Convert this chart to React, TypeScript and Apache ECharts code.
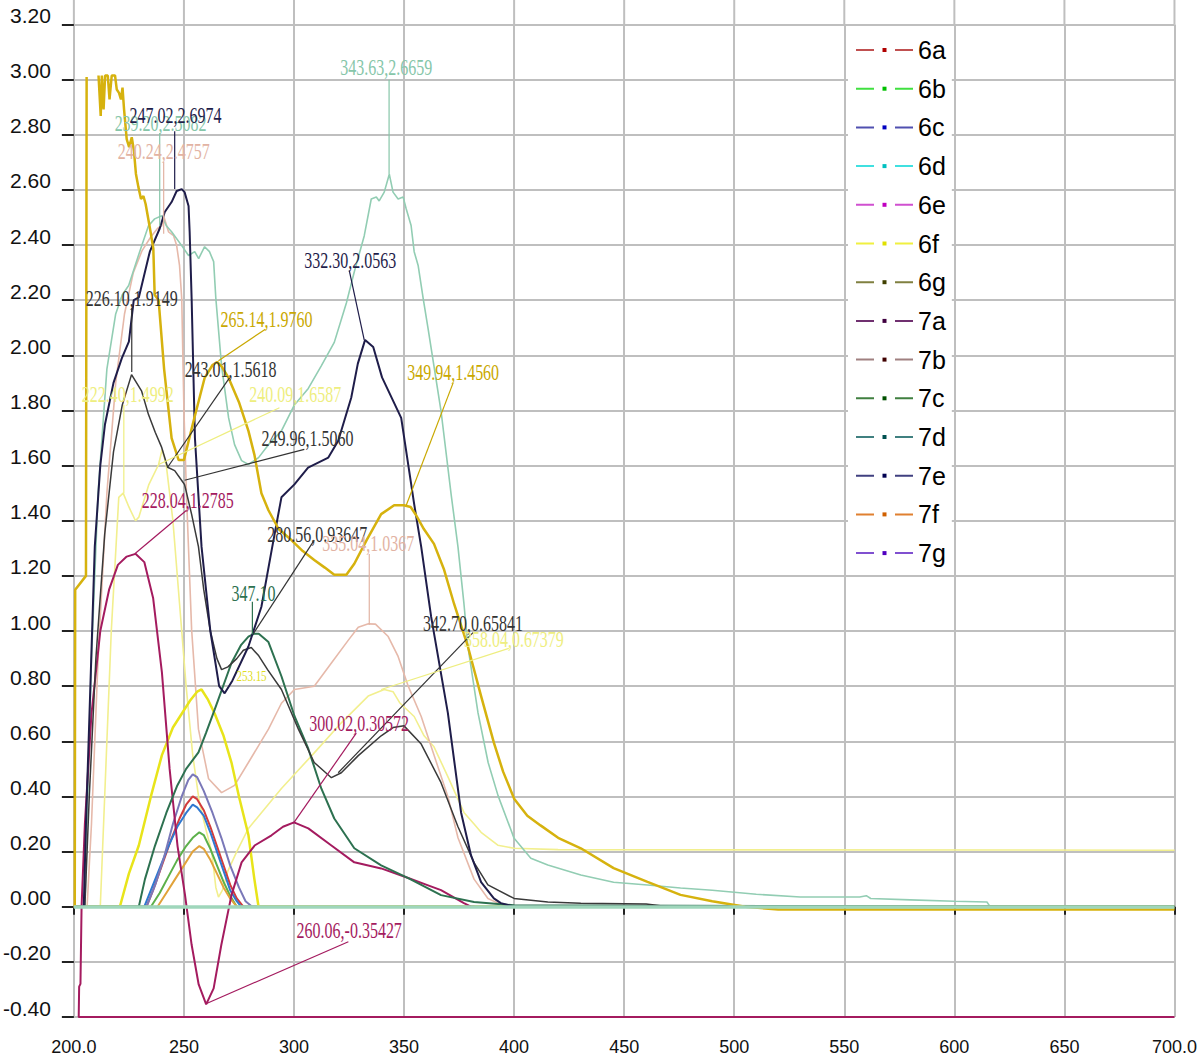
import React, { useEffect, useRef } from "react";
import * as echarts from "echarts";

// ---------- axes ----------
const X_TICKS = [200, 250, 300, 350, 400, 450, 500, 550, 600, 650, 700];
const X_TICK_LABELS = ["200.0", "250", "300", "350", "400", "450", "500", "550", "600", "650", "700.0"];
const Y_TICKS = [-0.4, -0.2, 0, 0.2, 0.4, 0.6, 0.8, 1.0, 1.2, 1.4, 1.6, 1.8, 2.0, 2.2, 2.4, 2.6, 2.8, 3.0, 3.2];
const Y_TICK_LABELS = ["-0.40", "-0.20", "0.00", "0.20", "0.40", "0.60", "0.80", "1.00", "1.20", "1.40", "1.60", "1.80", "2.00", "2.20", "2.40", "2.60", "2.80", "3.00", "3.20"];

const LEGEND_NAMES = ["6a", "6b", "6c", "6d", "6e", "6f", "6g", "7a", "7b", "7c", "7d", "7e", "7f", "7g"];

// ---------- spectra (wavelength nm, absorbance) ----------
const S6A = [[200,0],[233,0],[236,0.06],[240,0.15],[244,0.24],[248,0.32],[251,0.37],[254,0.4],[256,0.39],[259,0.35],[262,0.29],[265,0.22],[268,0.15],[271,0.08],[274,0.03],[277,0],[700,0]];
const S6B = [[200,0],[235,0],[239,0.05],[243,0.11],[247,0.17],[251,0.22],[254,0.25],[257,0.27],[259,0.26],[262,0.21],[265,0.15],[268,0.09],[271,0.04],[274,0],[700,0]];
const S6C = [[200,0],[232,0],[235,0.06],[239,0.14],[243,0.22],[247,0.29],[251,0.34],[254,0.37],[256,0.36],[259,0.33],[262,0.27],[265,0.2],[268,0.13],[271,0.06],[274,0.02],[276,0],[700,0]];
const S6D = [[200,0],[205,0],[206,0.3],[208,0.9],[211,1.5],[215,1.95],[219,2.15],[222,2.22],[224.9,2.253],[229.9,2.376],[233.9,2.47],[236.7,2.495],[239.9,2.506],[242,2.47],[244.4,2.448],[249,2.398],[252.1,2.362],[254.9,2.376],[256.7,2.351],[259.4,2.394],[261.6,2.376],[263.5,2.34],[264.5,2.206],[267.1,1.962],[270.3,1.773],[273,1.676],[276.2,1.618],[279.3,1.604],[283.9,1.629],[288.4,1.676],[294.3,1.726],[300.2,1.82],[306.5,1.88],[312.4,1.962],[318.3,2.047],[323.8,2.19],[327.4,2.303],[331.9,2.433],[335.1,2.567],[337.4,2.574],[338.7,2.56],[341,2.592],[343.3,2.657],[345,2.592],[347.3,2.567],[349.6,2.574],[351,2.531],[353.2,2.471],[354.6,2.376],[356.4,2.326],[358.7,2.206],[360.9,2.098],[366.8,1.798],[371.4,1.495],[374.5,1.305],[377.2,1.1],[379,0.944],[383.6,0.703],[388.2,0.523],[392.7,0.403],[400,0.248],[407.6,0.176],[415.3,0.151],[430.3,0.115],[445.2,0.089],[460.6,0.079],[475.6,0.068],[490,0.06],[510,0.045],[530,0.035],[557,0.035],[560,0.04],[562,0.03],[580,0.025],[600,0.02],[614.8,0.017],[616,0.003],[700,0.003]];
const S6E = [[700,-0.4],[202.2,-0.4],[202.4,-0.29],[203,-0.28],[203.5,0],[205,0.3],[208,0.7],[212,1.0],[216,1.15],[220,1.24],[224,1.27],[228,1.28],[232,1.25],[236,1.12],[240,0.85],[243.5,0.5],[247.1,0.22],[250.5,0.042],[253.5,-0.138],[256.7,-0.282],[260.1,-0.354],[263.5,-0.296],[267,-0.138],[271.6,0.042],[276.2,0.161],[282.1,0.222],[289.8,0.259],[295,0.29],[300,0.306],[306.5,0.284],[317,0.222],[327.4,0.161],[339.6,0.139],[351.9,0.104],[360,0.08],[366.8,0.06],[377.2,0.013],[380.4,0],[382,0]];
const S6F = [[200,0],[220.9,0],[225,0.12],[229.5,0.222],[235,0.4],[240,0.55],[245,0.65],[249,0.7],[253,0.75],[256,0.78],[258,0.788],[261,0.75],[264,0.7],[268,0.62],[271.6,0.523],[275,0.4],[279.3,0.26],[282,0.1],[283.9,0],[700,0]];
const S6G = [[200.4,0],[200.6,1.15],[205.5,1.2],[205.8,3.01],[207,"-"],[211.2,3.015],[212.2,2.868],[212.7,3.015],[213.5,2.892],[214.2,3.015],[215.4,3.015],[216.2,2.928],[217.2,3.015],[218.7,3.015],[219.5,2.964],[220.5,2.952],[221.4,2.928],[222.1,2.971],[222.8,2.892],[224,2.784],[225.1,2.755],[226.3,2.791],[227.3,2.741],[228.2,2.658],[229.3,2.611],[230.5,2.567],[231.6,2.578],[232.6,2.549],[234.6,2.459],[236.1,2.387],[236.7,2.22],[238.5,2.2],[241,1.95],[244.4,1.7],[247.6,1.62],[250,1.62],[254,1.75],[259.4,1.918],[263,1.965],[265.1,1.976],[267.1,1.96],[270.3,1.918],[275,1.83],[279.3,1.726],[282,1.64],[285.2,1.5],[288.4,1.438],[293,1.37],[298.8,1.33],[304,1.29],[309.2,1.258],[314,1.23],[318.3,1.204],[323.8,1.204],[327.4,1.244],[333,1.33],[339.6,1.424],[345.5,1.456],[349.9,1.456],[353,1.45],[355.5,1.42],[359,1.37],[363.6,1.316],[368.2,1.222],[372.7,1.099],[379,0.944],[385,0.764],[390.8,0.595],[395,0.49],[400,0.392],[406,0.33],[412,0.295],[420,0.25],[430.3,0.212],[445.2,0.14],[460.6,0.09],[475.6,0.043],[490,0.02],[505,0],[520,-0.01],[700,-0.01]];
const S7A = [[200,0],[205,0],[207,0.4],[210,0.9],[214,1.35],[218,1.65],[222,1.82],[226.2,1.93],[230.8,1.87],[233.9,1.785],[237,1.72],[239.9,1.666],[242.6,1.594],[245.8,1.582],[249,1.546],[250.3,1.531],[253.5,1.423],[256.6,1.306],[259,1.15],[262,1.0],[265,0.9],[267.1,0.86],[270,0.87],[274,0.9],[277,0.93],[280.6,0.94],[284,0.91],[288,0.86],[294.3,0.788],[302,0.644],[309.2,0.523],[317,0.468],[321.5,0.486],[329.2,0.548],[339.6,0.62],[345,0.65],[350,0.656],[357.8,0.59],[366.8,0.45],[374.5,0.29],[381.8,0.16],[388.1,0.079],[400,0.03],[415.3,0.017],[430.3,0.013],[460,0.01],[470,0],[700,0]];
const S7B = [[200,0],[206,0],[208,0.3],[211,0.9],[215,1.5],[219,1.9],[223,2.15],[227,2.3],[231,2.38],[235,2.43],[238,2.46],[239.9,2.47],[241,2.5],[243,2.448],[245.3,2.434],[246.7,2.398],[248,2.326],[249,2.206],[250,1.8],[251.2,1.485],[253.5,1.005],[256.6,0.644],[261.2,0.464],[267.1,0.414],[273,0.44],[279.3,0.523],[288.4,0.644],[294.3,0.738],[300.2,0.788],[309.2,0.8],[317,0.884],[324.7,0.967],[329.2,1.014],[333.8,1.026],[337,1.025],[342.8,0.98],[347.3,0.908],[351.9,0.8],[357.8,0.69],[363.6,0.55],[369.9,0.4],[374.5,0.25],[381.8,0.1],[388.1,0.03],[392.7,0.013],[400,0],[700,0]];
const S7C = [[200,0],[229.5,0],[232.3,0.1],[236.8,0.22],[242,0.34],[247,0.44],[251,0.5],[256.6,0.56],[260,0.63],[264,0.716],[271.6,0.884],[276,0.95],[279.3,0.98],[281.8,0.99],[284,0.99],[288.4,0.96],[294.3,0.836],[300.2,0.692],[306.5,0.573],[312.4,0.429],[318.3,0.32],[327.4,0.212],[339.6,0.15],[351.9,0.104],[366.8,0.042],[381.8,0.017],[400,0.005],[633,0],[700,0]];
const S7D = [[200,0],[212,0],[214,0.4],[217,1.0],[220.4,1.485],[222.4,1.5],[225,1.45],[228,1.4],[229.5,1.413],[234,1.53],[238.5,1.604],[240.1,1.659],[242,1.6],[245,1.4],[248,1.1],[251,0.8],[254,0.55],[257,0.38],[260,0.28],[262.6,0.2],[264.5,0.07],[265.7,0.035],[267.5,0.06],[270,0.13],[274,0.2],[279.3,0.284],[294.3,0.429],[309.2,0.558],[321.5,0.667],[333.7,0.764],[341,0.788],[345,0.78],[348,0.74],[354.6,0.69],[359.1,0.62],[363.6,0.58],[370,0.47],[377.2,0.342],[381.8,0.3],[385,0.27],[392.6,0.223],[400,0.212],[420,0.207],[700,0.205]];
const S7E = [[200,0],[204.5,0],[205.5,0.3],[207.5,0.8],[209.5,1.306],[212,1.6],[214.1,1.748],[218,1.9],[221.8,1.99],[225,2.05],[227.2,2.2],[229.5,2.21],[234.5,2.376],[239,2.46],[241.3,2.52],[244.4,2.556],[246.7,2.596],[249,2.603],[250.3,2.592],[252.1,2.542],[252.6,2.448],[253.5,2.206],[255,1.7],[258,1.306],[262,1.0],[266,0.8],[268.5,0.774],[272,0.82],[279.3,0.944],[285.2,1.088],[290,1.3],[294.3,1.485],[300.2,1.532],[306.4,1.593],[315.6,1.629],[320.1,1.69],[326,1.846],[329,1.97],[332.3,2.056],[336,2.03],[340,1.92],[348.7,1.773],[354.6,1.46],[357.8,1.305],[362.3,1.052],[369.9,0.703],[375.9,0.342],[380.4,0.187],[385,0.089],[390.8,0.03],[394,0.013],[400,0],[700,0]];
const S7F = [[200,0],[238,0],[242,0.05],[246,0.1],[250,0.15],[254,0.2],[257,0.22],[259,0.21],[262,0.17],[265,0.12],[268,0.07],[271,0.03],[274,0],[700,0]];
const S7G = [[200,0],[233,0],[237,0.08],[241,0.18],[245,0.3],[249,0.4],[252,0.46],[254,0.48],[256,0.47],[259,0.42],[263,0.34],[267,0.25],[271,0.15],[275,0.07],[278,0.02],[281,0],[700,0]];

// ---------- peak annotations (data coordinates) ----------
const ANN_TEXT = ["343.63,2.6659","239.20,2.5082","247.02,2.6974","240.24,2.4757","226.10,1.9149","265.14,1.9760","243.01,1.5618","222.40,1.4992","240.09,1.6587","249.96,1.5060","228.04,1.2785","332.30,2.0563","349.94,1.4560","280.56,0.93647","335.04,1.0367","347.10","253.15","300.02,0.30572","342.70,0.65841","358.04,0.67379","260.06,-0.35427"];
const ANN_AT = [[341.9,3.044],[239.4,2.842],[246.2,2.871],[240.8,2.741],[226.3,2.207],[287.5,2.131],[271.2,1.947],[224.5,1.857],[300.6,1.857],[306.1,1.698],[251.7,1.474],[325.6,2.344],[372.3,1.936],[310.6,1.351],[333.7,1.319],[281.6,1.135],[280.7,0.836],[329.6,0.663],[381.3,1.027],[399.9,0.969],[325.1,-0.088]];
const ANN_FROM = [[343.2,3.0],[239.0,2.806],[245.8,2.813],[240.8,2.701],[226.3,2.171],[287.0,2.095],[270.7,1.918],[222.7,1.82],[293.4,1.81],[304.7,1.659],[251.2,1.438],[325.1,2.308],[372.3,1.9],[309.2,1.33],[334.2,1.279],[281.1,1.106],null,[328.3,0.63],[381.3,0.994],[397.6,0.937],[324.7,-0.127]];
const ANN_TO = [[343.2,2.658],[239.0,2.47],[245.8,2.603],[240.8,2.441],[226.3,1.94],[265.7,1.98],[242.6,1.594],[222.7,1.5],[238.5,1.604],[250.3,1.547],[227.7,1.28],[331.9,2.056],[351.0,1.456],[281.6,0.991],[334.2,1.023],[281.1,0.988],null,[299.7,0.302],[320.1,0.486],[339.6,0.788],[260.3,-0.351]];

// ---------- styles ----------
const SERIES_STYLE: Record<string, { color: string; width: number }> = {
  "6a": { color: "#d23c3c", width: 2 },
  "6b": { color: "#5cb04a", width: 2 },
  "6c": { color: "#2f78d0", width: 2 },
  "6d": { color: "#92cdb3", width: 1.6 },
  "6e": { color: "#a41b5f", width: 2 },
  "6f": { color: "#e8e41a", width: 2.5 },
  "6g": { color: "#d6b20e", width: 2.5 },
  "7a": { color: "#3a3a3a", width: 1.5 },
  "7b": { color: "#e6b9aa", width: 1.6 },
  "7c": { color: "#2d7150", width: 2 },
  "7d": { color: "#f2ef8e", width: 1.6 },
  "7e": { color: "#1f1d4a", width: 2 },
  "7f": { color: "#e1a23a", width: 2 },
  "7g": { color: "#7a78b8", width: 2 },
};
const LEGEND_LINE_COLORS = ["#c05050","#40e040","#5050b0","#40e0e0","#d050d0","#f0f040","#808040","#703070","#a08080","#408040","#408080","#404080","#e08030","#8050d0"];
const LEGEND_DOT_COLORS = ["#b00000","#00c000","#0000c0","#00c0c0","#c000c0","#e0e000","#404000","#400040","#400000","#005000","#005050","#000050","#d06000","#5000c0"];
const ANN_COLORS = ["#86c6a9","#86c6a9","#1f1d4a","#e2b3a3","#333333","#c9a800","#333333","#eeee80","#eeee80","#333333","#a41b5f","#1f1d4a","#c9a800","#333333","#e2b3a3","#2d7150","#e0dd20","#a41b5f","#333333","#eeee80","#a41b5f"];

const DRAW_ORDER = ["7d", "7b", "6d", "6a", "6c", "7g", "6b", "7f", "6f", "6e", "7c", "7a", "7e", "6g"];
const DATA_BY_NAME: Record<string, any[]> = {
  "6a": S6A, "6b": S6B, "6c": S6C, "6d": S6D, "6e": S6E, "6f": S6F, "6g": S6G,
  "7a": S7A, "7b": S7B, "7c": S7C, "7d": S7D, "7e": S7E, "7f": S7F, "7g": S7G,
};

const GRID_COLOR = "#bfbfbf";

export default function App() {
  const ref = useRef<HTMLDivElement>(null);
  useEffect(() => {
    const chart = echarts.init(ref.current!, null, { renderer: "svg" });
    const series = DRAW_ORDER.map((name) => {
      const st = SERIES_STYLE[name];
      const s: any = {
        name,
        type: "line",
        data: DATA_BY_NAME[name],
        showSymbol: false,
        symbol: "rect",
        connectNulls: false,
        silent: true,
        color: st.color,
        lineStyle: { color: st.color, width: st.width },
      };
      if (name === "6d") {
        s.markLine = {
          silent: true,
          symbol: "none",
          label: { show: false },
          lineStyle: { color: "#9fd6bb", width: 3.5, type: "solid" },
          data: [{ yAxis: 0 }],
        };
      }
      return s;
    });

    chart.setOption({
      animation: false,
      backgroundColor: "#ffffff",
      grid: { left: 72, right: 25.5, top: 24.5, bottom: 33.3, containLabel: false },
      legend: {
        orient: "vertical",
        left: 848,
        top: 28,
        backgroundColor: "#ffffff",
        padding: [9, 6, 9, 7],
        itemWidth: 57,
        itemHeight: 5,
        itemGap: 12.7,
        selectedMode: false,
        textStyle: { fontFamily: "Liberation Sans", fontSize: 25, color: "#000", lineHeight: 26 },
        data: LEGEND_NAMES.map((n, i) => ({
          name: n,
          itemStyle: { color: LEGEND_DOT_COLORS[i], borderWidth: 0 },
          lineStyle: { color: LEGEND_LINE_COLORS[i], width: 2, type: [18, 21] },
        })),
      },
      xAxis: {
        type: "value",
        min: 200,
        max: 700,
        interval: 50,
        axisLine: { show: true, lineStyle: { color: GRID_COLOR, width: 2 } },
        axisTick: { show: true, length: 8, lineStyle: { color: "#222", width: 2 } },
        splitLine: { show: true, lineStyle: { color: GRID_COLOR, width: 2 } },
        axisLabel: {
          fontFamily: "Liberation Sans",
          fontSize: 18,
          color: "#111",
          margin: 21,
          formatter: (v: number) => {
            const i = X_TICKS.indexOf(v);
            return i >= 0 ? X_TICK_LABELS[i] : String(v);
          },
        },
      },
      yAxis: {
        type: "value",
        min: -0.4,
        max: 3.2,
        interval: 0.2,
        axisLine: { show: true, lineStyle: { color: GRID_COLOR, width: 2 } },
        axisTick: { show: true, length: 12, lineStyle: { color: "#222", width: 2 } },
        splitLine: { show: true, lineStyle: { color: GRID_COLOR, width: 2 } },
        axisLabel: {
          fontFamily: "Liberation Sans",
          fontSize: 21,
          color: "#111",
          margin: 23,
          verticalAlign: "bottom",
          lineHeight: 18,
          formatter: (v: number) => {
            const i = Y_TICKS.findIndex((t) => Math.abs(t - v) < 1e-6);
            return i >= 0 ? Y_TICK_LABELS[i] : v.toFixed(2);
          },
        },
      },
      series,
    });

    const toPx = (p: number[]) => chart.convertToPixel({ gridIndex: 0 }, p) as number[];
    const elements: any[] = [];
    // vertical grid lines continue above the plot top
    X_TICKS.forEach((x) => {
      const p = toPx([x, 3.2]);
      elements.push({
        type: "line",
        silent: true,
        z: 0,
        shape: { x1: p[0], y1: 0, x2: p[0], y2: p[1] },
        style: { stroke: GRID_COLOR, lineWidth: 2 },
      });
    });
    ANN_TEXT.forEach((t, i) => {
      const c = ANN_COLORS[i];
      const f = ANN_FROM[i];
      const to = ANN_TO[i];
      if (f && to) {
        const a = toPx(f);
        const b = toPx(to);
        elements.push({
          type: "line",
          silent: true,
          z: 50,
          shape: { x1: a[0], y1: a[1], x2: b[0], y2: b[1] },
          style: { stroke: c, lineWidth: 1.2 },
        });
      }
      const at = toPx(ANN_AT[i]);
      elements.push({
        type: "text",
        silent: true,
        z: 51,
        x: at[0],
        y: at[1],
        scaleY: 1.4,
        style: {
          text: t,
          fill: c,
          fontFamily: "Liberation Serif",
          fontSize: i === 16 ? 11 : 16,
          textAlign: "center",
          textVerticalAlign: "middle",
        },
      });
    });
    chart.setOption({ graphic: elements });

    return () => chart.dispose();
  }, []);
  return <div ref={ref} style={{ position: "absolute", left: 0, top: 0, width: 1200, height: 1056 }} />;
}
